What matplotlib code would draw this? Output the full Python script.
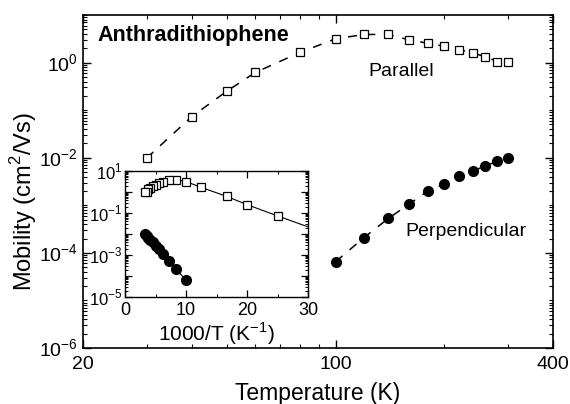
import matplotlib
matplotlib.use("Agg")
import matplotlib.pyplot as plt
import numpy as np
from matplotlib.ticker import LogLocator, NullFormatter, FixedLocator, FixedFormatter, MultipleLocator

plt.rcParams['font.family'] = ['Liberation Sans', 'DejaVu Sans']
plt.rcParams['mathtext.fontset'] = 'custom'
plt.rcParams['mathtext.rm'] = 'Liberation Sans'

# Data
T_par = [30, 40, 50, 60, 80, 100, 120, 140, 160, 180, 200, 220, 240, 260, 280, 300]
mu_par = [0.0098, 0.073, 0.25, 0.62, 1.65, 3.15, 3.9, 3.9, 3.0, 2.55, 2.2, 1.88, 1.57, 1.34, 1.05, 1.05]
T_perp = [100, 120, 140, 160, 180, 200, 220, 240, 260, 280, 300]
mu_perp = [6.5e-5, 2.1e-4, 5.3e-4, 1.06e-3, 2.0e-3, 2.8e-3, 4.1e-3, 5.3e-3, 6.7e-3, 8.4e-3, 9.9e-3]

x_ticks = [20, 100, 400]
x_ticklabels = ['20', '100', '400']
y_ticks = [1e-6, 1e-4, 1e-2, 1e0]
y_ticklabels = ['$10^{-6}$', '$10^{-4}$', '$10^{-2}$', '$10^{0}$']
inset_y_ticks = [1e-5, 1e-4, 1e-3, 1e-2, 1e-1, 1e0, 1e1]
inset_y_ticklabels = ['$10^{-5}$', '', '$10^{-3}$', '', '$10^{-1}$', '', '$10^{1}$']

W, H = 570, 404
fig = plt.figure(figsize=(W / 100, H / 100), dpi=100)
ax = fig.add_axes([83 / W, 1 - 348 / H, (553 - 83) / W, (348 - 15) / H])

dash = (0, (6, 6))
ax.plot(T_par, mu_par, linestyle=dash, color='black', lw=1.1, marker='s', ms=5.5,
        mfc='white', mec='black', mew=0.9)
ax.plot(T_perp, mu_perp, linestyle=dash, color='black', lw=1.1, marker='o', ms=7,
        mfc='black', mec='black')

ax.set_xscale('log')
ax.set_yscale('log')
ax.set_xlim(20, 400)
ax.set_ylim(1e-6, 1e1)
ax.xaxis.set_major_locator(FixedLocator(x_ticks))
ax.xaxis.set_major_formatter(FixedFormatter(x_ticklabels))
ax.xaxis.set_minor_locator(FixedLocator([30, 40, 50, 60, 70, 80, 90, 200, 300]))
ax.xaxis.set_minor_formatter(NullFormatter())
ax.yaxis.set_major_locator(FixedLocator(y_ticks))
ax.yaxis.set_major_formatter(FixedFormatter(y_ticklabels))
ax.yaxis.set_minor_locator(LogLocator(base=10, subs=np.arange(1, 10), numticks=30))
ax.yaxis.set_minor_formatter(NullFormatter())
ax.tick_params(which='both', direction='in', top=True, right=True, labelsize=14)
ax.tick_params(which='major', length=6, width=1)
ax.tick_params(which='minor', length=3, width=0.8)
ax.tick_params(axis='x', pad=6)
for s in ax.spines.values():
    s.set_linewidth(1.2)

ax.set_xlabel('Temperature (K)', fontsize=16.5, labelpad=6)
ax.set_ylabel('Mobility (cm$^2$/Vs)', fontsize=17, labelpad=4)
ax.yaxis.set_label_coords((39 - 83) / 470, (348 - 202) / 333)

ax.text(97 / W, 1 - 36 / H, 'Anthradithiophene', transform=fig.transFigure,
        fontsize=15.5, fontweight='bold', va='center', ha='left')
ax.text(368 / W, 1 - 72 / H, 'Parallel', transform=fig.transFigure,
        fontsize=14, va='center', ha='left')
ax.text(405 / W, 1 - 232 / H, 'Perpendicular', transform=fig.transFigure,
        fontsize=14, va='center', ha='left')

# Inset
inv_par = [1000 / t for t in T_par]
inv_perp = [1000 / t for t in T_perp]
axi = fig.add_axes([125 / W, 1 - 297 / H, (308 - 125) / W, (297 - 171) / H])
axi.plot(inv_par, mu_par, '-', color='black', lw=0.8, marker='s', ms=6,
         mfc='white', mec='black', mew=0.9)
axi.plot(inv_perp, mu_perp, '-', color='black', lw=0.8, marker='o', ms=7,
         mfc='black', mec='black')
axi.set_yscale('log')
axi.set_xlim(0, 30)
axi.set_ylim(1e-5, 1e1)
axi.xaxis.set_major_locator(MultipleLocator(10))
axi.xaxis.set_minor_locator(MultipleLocator(5))
axi.yaxis.set_major_locator(FixedLocator(inset_y_ticks))
axi.yaxis.set_major_formatter(FixedFormatter(inset_y_ticklabels))
axi.yaxis.set_minor_locator(LogLocator(base=10, subs=np.arange(2, 10), numticks=30))
axi.yaxis.set_minor_formatter(NullFormatter())
axi.tick_params(which='both', direction='in', top=True, right=True, labelsize=12)
axi.tick_params(axis='x', labelsize=13)
axi.tick_params(which='major', length=5, width=0.9)
axi.tick_params(which='minor', length=2.5, width=0.7)
axi.tick_params(axis='y', pad=2)
for s in axi.spines.values():
    s.set_linewidth(1.0)
axi.set_xlabel('1000/T (K$^{-1}$)', fontsize=15, labelpad=1)

fig.savefig('out.png', dpi=100)
